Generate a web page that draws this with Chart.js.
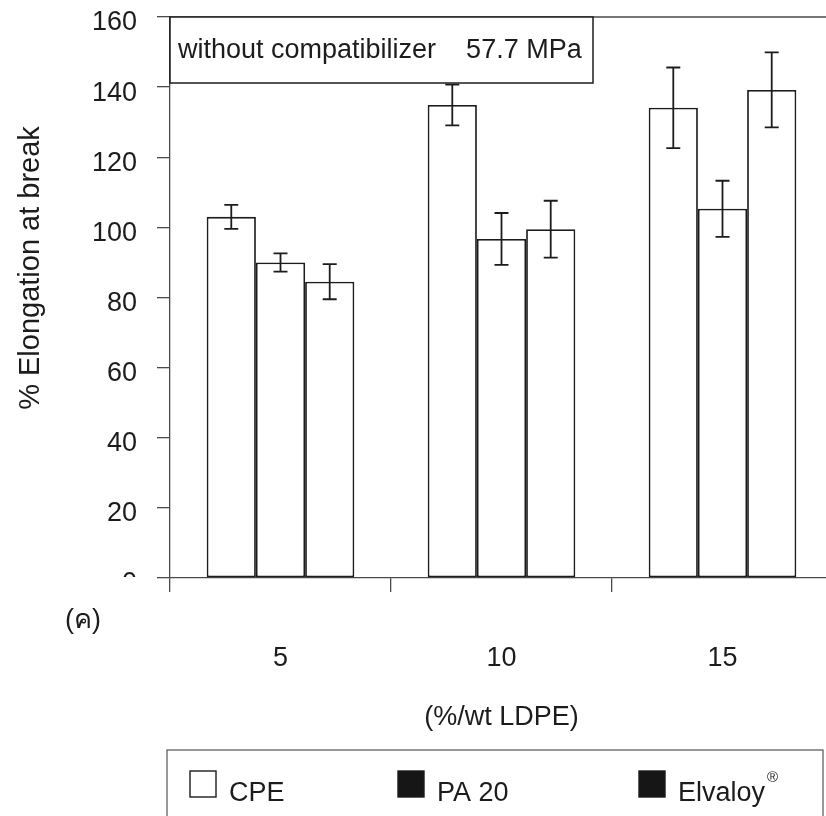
<!DOCTYPE html>
<html>
<head>
<meta charset="utf-8">
<script src="https://cdn.jsdelivr.net/npm/chart.js@4.4.1/dist/chart.umd.min.js"></script>
<style>
  html, body { margin: 0; padding: 0; background: #fff; overflow: hidden; }
  #wrap { width: 840px; height: 816px; }
</style>
</head>
<body>
<div id="wrap"><canvas id="myChart" width="840" height="816"></canvas></div>
<script>
// LDPE content groups and the three compatibilizers
var categories = ["5", "10", "15"];
var seriesNames = ["CPE", "PA 20", "Elvaloy"];

// mean elongation at break (%) and +/- spread
var cpe = [103.0, 134.9, 134.1];
var pa20 = [90.0, 96.7, 105.3];
var elvaloy = [84.5, 99.5, 139.2];
var cpeErr = [3.4, 5.8, 11.5];
var pa20Err = [2.6, 7.4, 8.0];
var elvaloyErr = [5.0, 8.1, 10.7];

var yTicks = [0, 20, 40, 60, 80, 100, 120, 140, 160];

var boxNote = "without compatibilizer    57.7 MPa";
var panelTag = "(ค)";

var FONT = "'Liberation Sans', Arial, sans-serif";
var INK = "#1c1c1c";
var AXIS = "#4a4a4a";

// legend swatch fills (first is hollow)
var swatchFill = ["#ffffff", "#161616", "#161616"];

var errors = [cpeErr, pa20Err, elvaloyErr];

var extras = {
    id: "extras",
    afterDatasetsDraw: function (chart) {
        var ctx = chart.ctx;
        var y = chart.scales.y;
        ctx.save();
        ctx.strokeStyle = INK;
        ctx.lineWidth = 1.8;
        chart.data.datasets.forEach(function (ds, i) {
            var meta = chart.getDatasetMeta(i);
            meta.data.forEach(function (bar, j) {
                var v = ds.data[j];
                var e = errors[i][j];
                var top = y.getPixelForValue(v + e);
                var bot = y.getPixelForValue(v - e);
                ctx.beginPath();
                ctx.moveTo(bar.x, top);
                ctx.lineTo(bar.x, bot);
                ctx.moveTo(bar.x - 7, top);
                ctx.lineTo(bar.x + 7, top);
                ctx.moveTo(bar.x - 7, bot);
                ctx.lineTo(bar.x + 7, bot);
                ctx.stroke();
            });
        });
        ctx.restore();
    },
    afterDraw: function (chart) {
        var ctx = chart.ctx;
        var area = chart.chartArea;
        ctx.save();

        // hide the lower half of the "0" label
        ctx.fillStyle = "#fff";
        ctx.fillRect(100, area.bottom - 1, 54, 30);

        // top frame line
        ctx.strokeStyle = AXIS;
        ctx.lineWidth = 1.3;
        ctx.beginPath();
        ctx.moveTo(area.left, area.top);
        ctx.lineTo(chart.width, area.top);
        ctx.stroke();

        // note box in the top-left corner
        ctx.fillStyle = "#fff";
        ctx.fillRect(area.left, area.top, 423, 66);
        ctx.strokeStyle = INK;
        ctx.lineWidth = 1.5;
        ctx.strokeRect(area.left, area.top, 423, 66);
        ctx.fillStyle = INK;
        ctx.font = "27px " + FONT;
        ctx.textBaseline = "middle";
        ctx.textAlign = "left";
        ctx.fillText(boxNote, area.left + 8, area.top + 34);

        // y axis title
        ctx.save();
        ctx.translate(31, 268);
        ctx.rotate(-Math.PI / 2);
        ctx.textAlign = "center";
        ctx.font = "29px " + FONT;
        ctx.fillText("% Elongation at break", 0, 0);
        ctx.restore();

        // panel tag
        ctx.textAlign = "center";
        ctx.fillText(panelTag, 83, 621);

        // legend
        ctx.strokeStyle = "#555";
        ctx.lineWidth = 1.2;
        ctx.strokeRect(167, 750, 656, 90);
        var sx = [190, 398, 639];
        seriesNames.forEach(function (name, i) {
            ctx.fillStyle = swatchFill[i];
            ctx.fillRect(sx[i], 771, 26, 26);
            ctx.strokeStyle = INK;
            ctx.lineWidth = 1.4;
            ctx.strokeRect(sx[i], 771, 26, 26);
            ctx.fillStyle = INK;
            ctx.textAlign = "left";
            ctx.textBaseline = "alphabetic";
            ctx.font = "27px " + FONT;
            ctx.fillText(name, sx[i] + 39, 801);
            if (name === "Elvaloy") {
                var w = ctx.measureText(name).width;
                ctx.font = "15px " + FONT;
                ctx.fillText("®", sx[i] + 39 + w + 2, 782);
            }
        });
        ctx.restore();
    }
};

function barSet(label, data) {
    return {
        label: label,
        data: data,
        backgroundColor: "#ffffff",
        borderColor: INK,
        borderWidth: 1.8,
        borderSkipped: false,
        barPercentage: 1.0,
        categoryPercentage: 0.668
    };
}

new Chart("myChart", {
    type: "bar",
    data: {
        labels: categories,
        datasets: [
            barSet(seriesNames[0], cpe),
            barSet(seriesNames[1], pa20),
            barSet(seriesNames[2], elvaloy)
        ]
    },
    options: {
        responsive: false,
        animation: false,
        layout: { padding: { top: 17, right: 7, bottom: 0, left: 0 } },
        plugins: {
            legend: { display: false },
            tooltip: { enabled: false }
        },
        scales: {
            x: {
                grid: {
                    offset: true,
                    drawOnChartArea: false,
                    drawTicks: true,
                    tickLength: 14,
                    color: AXIS,
                    lineWidth: 1.3
                },
                border: { display: true, color: AXIS, width: 1.3 },
                ticks: {
                    color: INK,
                    font: { family: FONT, size: 27 },
                    padding: 50,
                    maxRotation: 0,
                    autoSkip: false
                },
                title: {
                    display: true,
                    text: "(%/wt LDPE)",
                    color: INK,
                    font: { family: FONT, size: 27 },
                    padding: { top: 0, bottom: 82 }
                },
                afterFit: function (scale) { scale.height = 238; }
            },
            y: {
                min: 0,
                max: 160,
                afterBuildTicks: function (scale) {
                    scale.ticks = yTicks.map(function (v) { return { value: v }; });
                },
                grid: {
                    drawOnChartArea: false,
                    drawTicks: true,
                    tickLength: 13,
                    color: AXIS,
                    lineWidth: 1.3
                },
                border: { display: true, color: AXIS, width: 1.3 },
                ticks: {
                    color: INK,
                    font: { family: FONT, size: 27 },
                    padding: 20,
                    labelOffset: 6
                },
                afterFit: function (scale) {
                    scale.width = 170;
                    scale.paddingTop = 0;
                    scale.paddingBottom = 0;
                }
            }
        }
    },
    plugins: [extras]
});
</script>
</body>
</html>
